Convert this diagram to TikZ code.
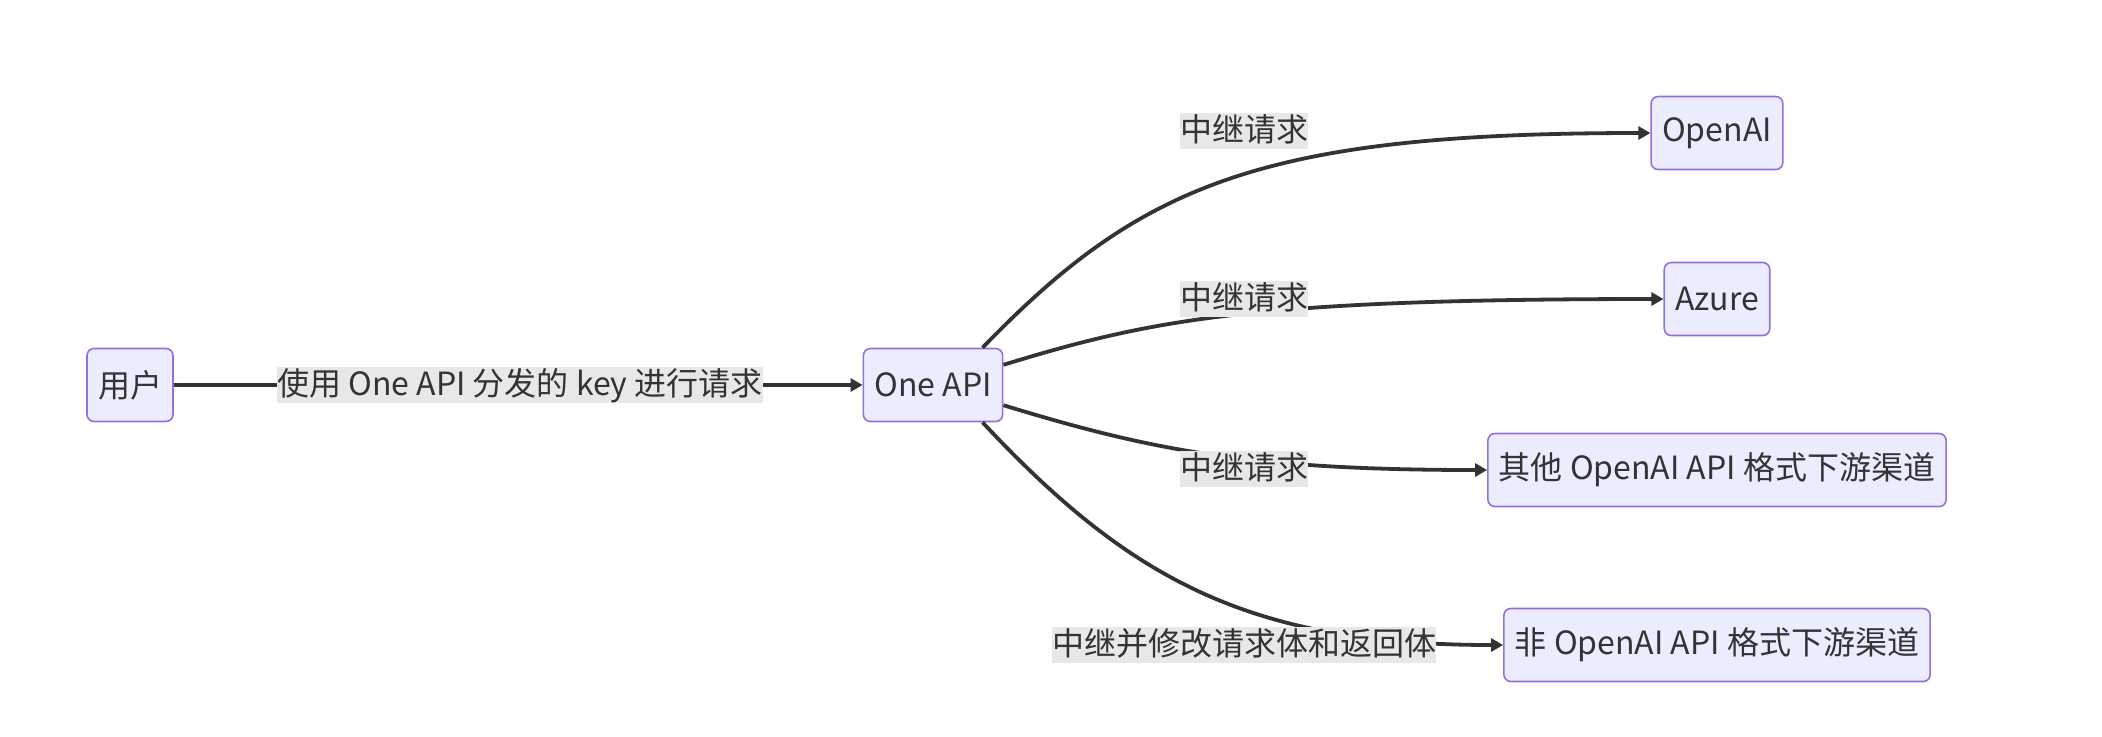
\documentclass[tikz,border=0pt]{standalone}
\usepackage{fontspec}
\setmainfont{Noto Sans CJK SC}
\usetikzlibrary{arrows.meta}
\definecolor{nodefill}{HTML}{ECECFF}
\definecolor{nodeline}{HTML}{9370DB}
\definecolor{linkline}{HTML}{333333}
\definecolor{labelgray}{HTML}{E8E8E8}
\tikzset{%
  >={Triangle[width=6.5pt,length=6pt]},
  % Specifications for style of nodes:
        base/.style = {rectangle, rounded corners=3.5pt, draw=nodeline,
                       line width=0.8pt, fill=nodefill, text=linkline,
                       minimum height=36.5pt, inner xsep=5.5pt,
                       text centered, font=\fontsize{16}{19}\selectfont},
   edgelabel/.style = {fill=labelgray, text=linkline, inner xsep=0pt,
                       inner ysep=0pt, text height=14pt, text depth=4pt,
                       font=\fontsize{16}{19}\selectfont},
        link/.style = {->, draw=linkline, line width=1.9pt},
}
\begin{document}
\begin{tikzpicture}[x=0.5pt, y=-0.5pt]
\useasboundingbox (0,0) rectangle (2102,736);
% Specification of nodes (position, etc.)
\node (user)     [base] at (130,385)  {用户};
\node (oneapi)   [base] at (933,385)  {One API};
\node (openai)   [base] at (1717,133) {OpenAI};
\node (azure)    [base] at (1717,299) {Azure};
\node (otheroa)  [base] at (1717,470) {其他 OpenAI API 格式下游渠道};
\node (nonoa)    [base] at (1717,645) {非 OpenAI API 格式下游渠道};
% Specification of lines between nodes specified above
\draw[link] (user) -- (oneapi);
\draw[link] (oneapi.37) .. controls (1140,185) and (1260,133) .. (openai.west);
\draw[link] (oneapi.16) .. controls (1150,320) and (1250,299) .. (azure.west);
\draw[link] (oneapi.-16) .. controls (1150,450) and (1250,470) .. (otheroa.west);
\draw[link] (oneapi.-37) .. controls (1130,580) and (1250,645) .. (nonoa.west);
% labels on top of the lines
\node (lbluser)   [edgelabel] at (520,385)  {使用 One API 分发的 key 进行请求};
\node (lblopenai) [edgelabel] at (1244,131) {中继请求};
\node (lblazure)  [edgelabel] at (1244,299) {中继请求};
\node (lblother)  [edgelabel] at (1244,469) {中继请求};
\node (lblnonoa)  [edgelabel] at (1244,645) {中继并修改请求体和返回体};
\end{tikzpicture}
\end{document}
